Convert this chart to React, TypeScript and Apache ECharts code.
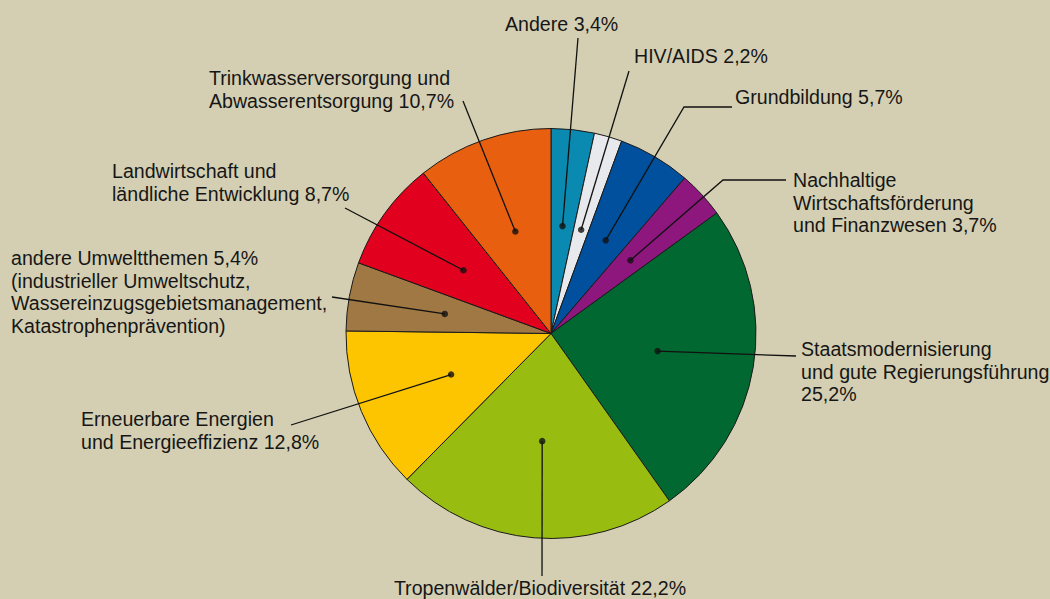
import { useEffect, useRef } from "react";
import * as echarts from "echarts";

// ---- data ----
const categories = [
  "Andere",
  "HIV/AIDS",
  "Grundbildung",
  "Nachhaltige Wirtschaftsförderung und Finanzwesen",
  "Staatsmodernisierung und gute Regierungsführung",
  "Tropenwälder/Biodiversität",
  "Erneuerbare Energien und Energieeffizienz",
  "andere Umweltthemen",
  "Landwirtschaft und ländliche Entwicklung",
  "Trinkwasserversorgung und Abwasserentsorgung",
];
const shares = [3.4, 2.2, 5.7, 3.7, 25.2, 22.2, 12.8, 5.4, 8.7, 10.7];
const labelTexts = [
  "Andere {v}",
  "HIV/AIDS {v}",
  "Grundbildung {v}",
  "Nachhaltige\nWirtschaftsförderung\nund Finanzwesen {v}",
  "Staatsmodernisierung\nund gute Regierungsführung\n{v}",
  "Tropenwälder/Biodiversität {v}",
  "Erneuerbare Energien\nund Energieeffizienz {v}",
  "andere Umweltthemen {v}\n(industrieller Umweltschutz,\nWassereinzugsgebietsmanagement,\nKatastrophenprävention)",
  "Landwirtschaft und\nländliche Entwicklung {v}",
  "Trinkwasserversorgung und\nAbwasserentsorgung {v}",
];

// ---- styles / layout ----
const colors = [
  "#0a8ab0",
  "#e8e9ec",
  "#00509e",
  "#8e177e",
  "#006830",
  "#98bd10",
  "#fcc500",
  "#a07844",
  "#e1001d",
  "#e85f10",
];
const BG = "#d4cfb2";
const CENTER: [number, number] = [551, 333.5];
const PIE_R = 205;
const DOT_R = 108;
const FONT = 19.6;
const LINE_H = 22.5;
const FONT_FAMILY = '"Liberation Sans", Arial, Helvetica, sans-serif';

// annotation placement: label anchor (first line centre) and leader-line points after the dot
type LabelPlace = { x: number; y: number; align: "left" | "center" | "right"; line: number[][] };
const labelPlaces: LabelPlace[] = [
  { x: 505, y: 24, align: "left", line: [[578, 38]] },
  { x: 634, y: 56, align: "left", line: [[629, 71]] },
  { x: 735, y: 97, align: "left", line: [[684, 107], [732, 107]] },
  { x: 793, y: 180, align: "left", line: [[723, 180], [786, 180]] },
  { x: 801, y: 349, align: "left", line: [[796, 356]] },
  { x: 540, y: 588, align: "center", line: [[542, 576]] },
  { x: 81, y: 419, align: "left", line: [[291, 425]] },
  { x: 11, y: 258, align: "left", line: [[332, 297]] },
  { x: 112, y: 171, align: "left", line: [[345, 208]] },
  { x: 209, y: 78, align: "left", line: [[463, 101]] },
];

const fmt = (v: number) => v.toFixed(1).replace(".", ",") + "%";

export default function App() {
  const ref = useRef<HTMLDivElement>(null);

  useEffect(() => {
    if (!ref.current) return;
    const chart = echarts.init(ref.current, undefined, { renderer: "svg" });

    const pieData = categories.map((name, i) => ({
      name,
      value: shares[i],
      itemStyle: { color: colors[i] },
    }));

    // mid-angle (in percent of the full circle) of every slice, for the dots
    let cum = 0;
    const dotData = shares.map((v) => {
      const mid = cum + v / 2;
      cum += v;
      return [DOT_R, mid];
    });

    chart.setOption({
      animation: false,
      backgroundColor: BG,
      polar: { center: CENTER, radius: PIE_R },
      angleAxis: {
        type: "value",
        min: 0,
        max: 100,
        startAngle: 90,
        clockwise: true,
        show: false,
      },
      radiusAxis: { type: "value", min: 0, max: PIE_R, show: false },
      series: [
        {
          type: "pie",
          center: CENTER,
          radius: PIE_R,
          startAngle: 90,
          clockwise: true,
          silent: true,
          z: 1,
          label: { show: false },
          labelLine: { show: false },
          itemStyle: { borderColor: "#1a1a1a", borderWidth: 1 },
          emphasis: { disabled: true },
          data: pieData,
        },
        {
          type: "pie",
          center: CENTER,
          radius: DOT_R,
          startAngle: 90,
          clockwise: true,
          silent: true,
          z: 3,
          avoidLabelOverlap: false,
          emphasis: { disabled: true },
          itemStyle: { color: "rgba(0,0,0,0)", borderWidth: 0 },
          label: {
            show: true,
            position: "outside",
            color: "#161616",
            fontSize: FONT,
            lineHeight: LINE_H,
            fontFamily: FONT_FAMILY,
            overflow: "none",
            formatter: (p: any) => labelTexts[p.dataIndex].replace("{v}", fmt(p.value)),
          },
          labelLine: {
            show: true,
            length: 20,
            length2: 10,
            lineStyle: { color: "#111111", width: 1.3 },
          },
          labelLayout: (p: any) => {
            const a = labelPlaces[p.dataIndex];
            const start = p.labelLinePoints && p.labelLinePoints[0];
            const out: any = {
              x: a.x,
              y: a.y - LINE_H / 2,
              align: a.align,
              verticalAlign: "top",
            };
            if (start) out.labelLinePoints = [start, ...a.line];
            return out;
          },
          data: categories.map((name, i) => ({ name, value: shares[i] })),
        },
        {
          type: "scatter",
          coordinateSystem: "polar",
          silent: true,
          z: 4,
          symbol: "circle",
          symbolSize: 6.5,
          itemStyle: { color: "#111111" },
          data: dotData,
        },
      ],
    });

    return () => chart.dispose();
  }, []);

  return (
    <div
      ref={ref}
      style={{ position: "fixed", left: 0, top: 0, width: 1050, height: 599, background: BG }}
    />
  );
}
